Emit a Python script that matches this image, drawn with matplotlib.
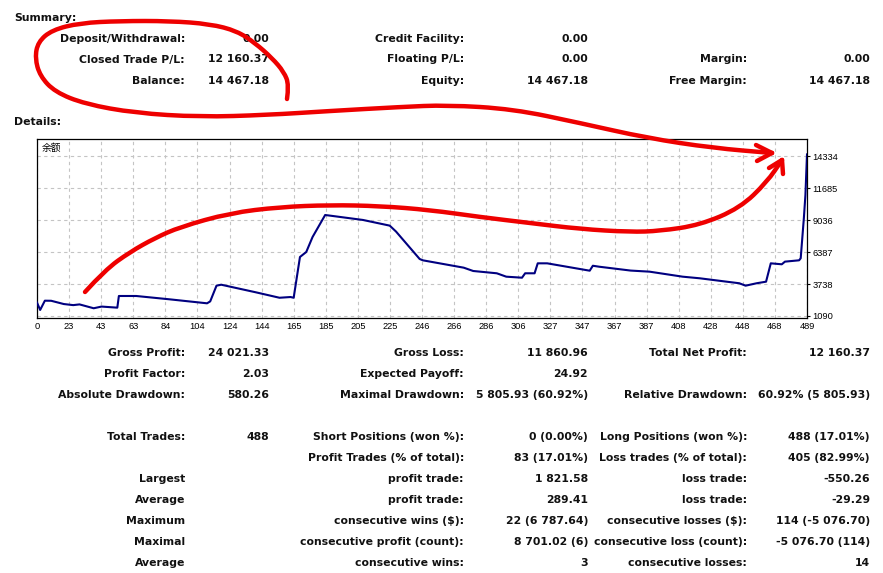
import numpy as np
import matplotlib.pyplot as plt
from matplotlib.path import Path
from matplotlib.patches import PathPatch
from matplotlib.lines import Line2D
from matplotlib.transforms import Affine2D

W, H = 883, 573

# balance curve (trade index, balance)
trade_idx = [0, 2, 5, 9, 17, 23, 27, 36, 41, 51, 52, 63, 84, 108, 110, 114, 117,
             139, 154, 161, 163, 167, 171, 175, 183, 186, 207, 224, 228, 243, 245,
             271, 277, 292, 298, 308, 310, 316, 318, 324, 351, 353, 357, 377, 389,
             410, 421, 438, 446, 450, 457, 463, 466, 473, 475, 484, 485, 487, 488, 489]
balance = [2200, 1590, 2357, 2350, 2080, 1990, 2050, 1730, 1870, 1780, 2746, 2746,
           2473, 2140, 2300, 3600, 3680, 3050, 2600, 2660, 2600, 5975, 6390, 7630,
           9450, 9400, 9040, 8570, 8080, 5810, 5700, 5090, 4816, 4625, 4345, 4260,
           4625, 4625, 5450, 5450, 4840, 5250, 5170, 4850, 4760, 4345, 4210, 3930,
           3800, 3600, 3800, 3930, 5450, 5370, 5590, 5700, 5870, 9180, 11110, 14467]

x_labels = ["0", "23", "43", "63", "84", "104", "124", "144", "165", "185", "205",
            "225", "246", "266", "286", "306", "327", "347", "367", "387", "408",
            "428", "448", "468", "489"]
y_ticks = [1090, 3738, 6387, 9036, 11685, 14334]

summary_rows = [
    ["Deposit/Withdrawal:", "0.00", "Credit Facility:", "0.00", "", ""],
    ["Closed Trade P/L:", "12 160.37", "Floating P/L:", "0.00", "Margin:", "0.00"],
    ["Balance:", "14 467.18", "Equity:", "14 467.18", "Free Margin:", "14 467.18"],
]
detail_rows = [
    ["Gross Profit:", "24 021.33", "Gross Loss:", "11 860.96", "Total Net Profit:", "12 160.37"],
    ["Profit Factor:", "2.03", "Expected Payoff:", "24.92", "", ""],
    ["Absolute Drawdown:", "580.26", "Maximal Drawdown:", "5 805.93 (60.92%)",
     "Relative Drawdown:", "60.92% (5 805.93)"],
    None,
    ["Total Trades:", "488", "Short Positions (won %):", "0 (0.00%)",
     "Long Positions (won %):", "488 (17.01%)"],
    ["", "", "Profit Trades (% of total):", "83 (17.01%)",
     "Loss trades (% of total):", "405 (82.99%)"],
    ["Largest", "", "profit trade:", "1 821.58", "loss trade:", "-550.26"],
    ["Average", "", "profit trade:", "289.41", "loss trade:", "-29.29"],
    ["Maximum", "", "consecutive wins ($):", "22 (6 787.64)",
     "consecutive losses ($):", "114 (-5 076.70)"],
    ["Maximal", "", "consecutive profit (count):", "8 701.02 (6)",
     "consecutive loss (count):", "-5 076.70 (114)"],
    ["Average", "", "consecutive wins:", "3", "consecutive losses:", "14"],
]

fig = plt.figure(figsize=(W / 100, H / 100), dpi=100)
fig.patch.set_facecolor("white")

# pixel coords (origin top-left) -> figure
px = Affine2D().scale(1 / W, -1 / H).translate(0, 1) + fig.transFigure

col_x = [185, 269, 464, 588, 747, 870]
txt = dict(fontsize=7.85, fontweight="bold", color="#111111", family="DejaVu Sans")


def put_row(row, baseline):
    for cx, s in zip(col_x, row):
        if s:
            fig.text(cx, baseline, s, ha="right", va="baseline", transform=px, **txt)


fig.text(14, 20.7, "Summary:", ha="left", va="baseline", transform=px, **txt)
fig.text(14, 125, "Details:", ha="left", va="baseline", transform=px, **txt)
for i, row in enumerate(summary_rows):
    put_row(row, 41.5 + 21 * i)
for i, row in enumerate(detail_rows):
    if row is not None:
        put_row(row, 356 + 21 * i)

# chart
ax = fig.add_axes([37 / W, 1 - 318 / H, 770 / W, 179 / H])
ax.plot(trade_idx, balance, color="#000080", lw=1.5, zorder=3)
ax.set_xlim(0, 489)
ax.set_ylim(924, 15742)
ax.set_xticks(np.linspace(0, 489, 25))
ax.set_xticklabels(x_labels)
ax.set_yticks(y_ticks)
ax.yaxis.tick_right()
ax.tick_params(axis="x", length=0, pad=3, labelsize=6.7)
ax.tick_params(axis="y", length=2.5, width=0.8, pad=1.5, labelsize=6.7)
for lab in ax.get_xticklabels() + ax.get_yticklabels():
    lab.set_family("Liberation Sans")
ax.grid(True, color="#c4c4c4", linestyle=(0, (3, 3)), lw=0.8)
for sp in ax.spines.values():
    sp.set_color("black")
    sp.set_linewidth(0.9)
ax.text(0.006, 0.95, "余额", transform=ax.transAxes, ha="left", va="center",
        fontsize=7, family=["Noto Sans CJK SC", "DejaVu Sans"])


# red hand-drawn annotations
def smooth_path(pts):
    pts = np.asarray(pts, float)
    verts = [pts[0]]
    codes = [Path.MOVETO]
    for k in range(1, len(pts) - 1):
        mid = (pts[k] + pts[k + 1]) / 2
        verts += [pts[k], mid]
        codes += [Path.CURVE3, Path.CURVE3]
    verts.append(pts[-1])
    codes.append(Path.LINETO)
    return Path(verts, codes)


red = "#ee0000"
loop_pts = [(287, 99), (289, 85), (284, 72), (272, 58), (255, 43), (237, 31),
            (210, 24), (170, 21), (120, 21), (80, 23), (52, 30), (38, 42),
            (35, 58), (40, 76), (55, 92), (85, 104), (135, 113), (200, 117),
            (267, 115), (330, 111), (400, 107), (447, 105), (513, 109),
            (580, 123), (647, 138), (713, 148), (772, 153)]
arc_pts = [(85, 292), (105, 270), (130, 252), (155, 238), (180, 227), (230, 213),
           (280, 207), (330, 205), (380, 206), (430, 210), (480, 217), (530, 223),
           (580, 229), (630, 232), (660, 231), (700, 225), (740, 208), (767, 182),
           (782, 160)]
for pts in (loop_pts, arc_pts):
    fig.add_artist(PathPatch(smooth_path(pts), transform=px, fill=False,
                             edgecolor=red, lw=3.2, capstyle="round",
                             joinstyle="round", zorder=10))

heads = [((772, 153), [(756, 145), (757, 161)]),
         ((782, 160), [(769, 168), (783, 174)])]
for tip, barbs in heads:
    for b in barbs:
        fig.add_artist(Line2D([b[0], tip[0]], [b[1], tip[1]], transform=px,
                              color=red, lw=3.2, solid_capstyle="round", zorder=10))

fig.savefig("out.png", dpi=100)
